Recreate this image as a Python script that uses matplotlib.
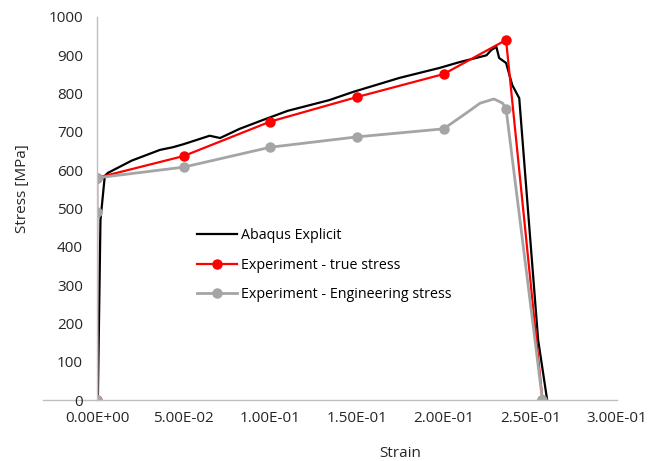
import numpy as np
import matplotlib
matplotlib.use("Agg")
import matplotlib.pyplot as plt
from matplotlib.lines import Line2D
from matplotlib.ticker import FuncFormatter

plt.rcParams['font.family'] = ['Open Sans', 'DejaVu Sans']

# Abaqus Explicit simulation
abaqus_strain = [0.0005, 0.002, 0.0045, 0.0063, 0.02, 0.0363, 0.0438, 0.05, 0.065, 0.071,
                 0.0823, 0.0939, 0.11, 0.134, 0.1475, 0.1745, 0.1976, 0.209, 0.2247, 0.2275,
                 0.2304, 0.232, 0.236, 0.2396, 0.2436, 0.2545, 0.2597]
abaqus_stress = [0, 470, 585, 593, 625, 653, 660, 668, 690, 684,
                 708, 728, 755, 783, 804, 841, 867, 882, 900, 914,
                 922, 893, 880, 822, 788, 157, 0]

# experiment - true stress
true_strain = [0, 0, 0.05, 0.1, 0.15, 0.2, 0.236, 0.257]
true_stress = [0, 580, 637, 727, 791, 851, 940, 0]

# experiment - engineering stress (extra unmarked points follow the drawn curve)
eng_strain = [0, 0, 0, 0.05, 0.1, 0.15, 0.2, 0.213, 0.221, 0.229, 0.234, 0.236, 0.257]
eng_stress = [0, 490, 580, 608, 660, 687, 708, 749, 775, 786, 775, 760, 0]
eng_marked = [0, 1, 2, 3, 4, 5, 6, 11, 12]

fig = plt.figure(figsize=(6.65, 4.61), dpi=100)
ax = fig.add_axes([97 / 665, 1 - 400 / 461, 520 / 665, 383 / 461])

ax.plot(abaqus_strain, abaqus_stress, color='black', lw=1.6, label='Abaqus Explicit')
ax.plot(true_strain, true_stress, color='#ff0000', lw=1.6, marker='o', ms=6.5,
        label='Experiment - true stress')
ax.plot(eng_strain, eng_stress, color='#a5a5a5', lw=2.0, marker='o', ms=6.5,
        markevery=eng_marked, label='Experiment - Engineering stress')

ax.set_xlim(0, 0.3)
ax.set_ylim(0, 1000)
ax.set_xticks(np.arange(0, 0.301, 0.05))
ax.set_yticks(np.arange(0, 1001, 100))
ax.xaxis.set_major_formatter(FuncFormatter(lambda v, p: '{:.2E}'.format(v)))
ax.tick_params(length=0, labelsize=11, colors='#262626', pad=8)
ax.tick_params(axis='y', pad=10)

for side in ['top', 'right']:
    ax.spines[side].set_visible(False)
for side in ['left', 'bottom']:
    ax.spines[side].set_color('#bfbfbf')
    ax.spines[side].set_linewidth(1.0)

# horizontal axis line runs a little past the vertical axis
ax.add_line(Line2D([-0.104, 0], [0, 0], transform=ax.transAxes, color='#bfbfbf',
                   lw=1.0, clip_on=False, zorder=0))

ax.set_xlabel('Strain', fontsize=11, color='#262626')
ax.xaxis.set_label_coords(0.583, -0.12)
ax.set_ylabel('Stress [MPa]', fontsize=11, color='#262626')
ax.yaxis.set_label_coords(-0.128, 0.553)

ax.legend(loc='upper left', bbox_to_anchor=(0.181, 0.463), frameon=False,
          fontsize=10.3, handlelength=2.8, handletextpad=0.3, labelspacing=1.0,
          numpoints=1, borderaxespad=0)

fig.savefig('out.png', dpi=100)
